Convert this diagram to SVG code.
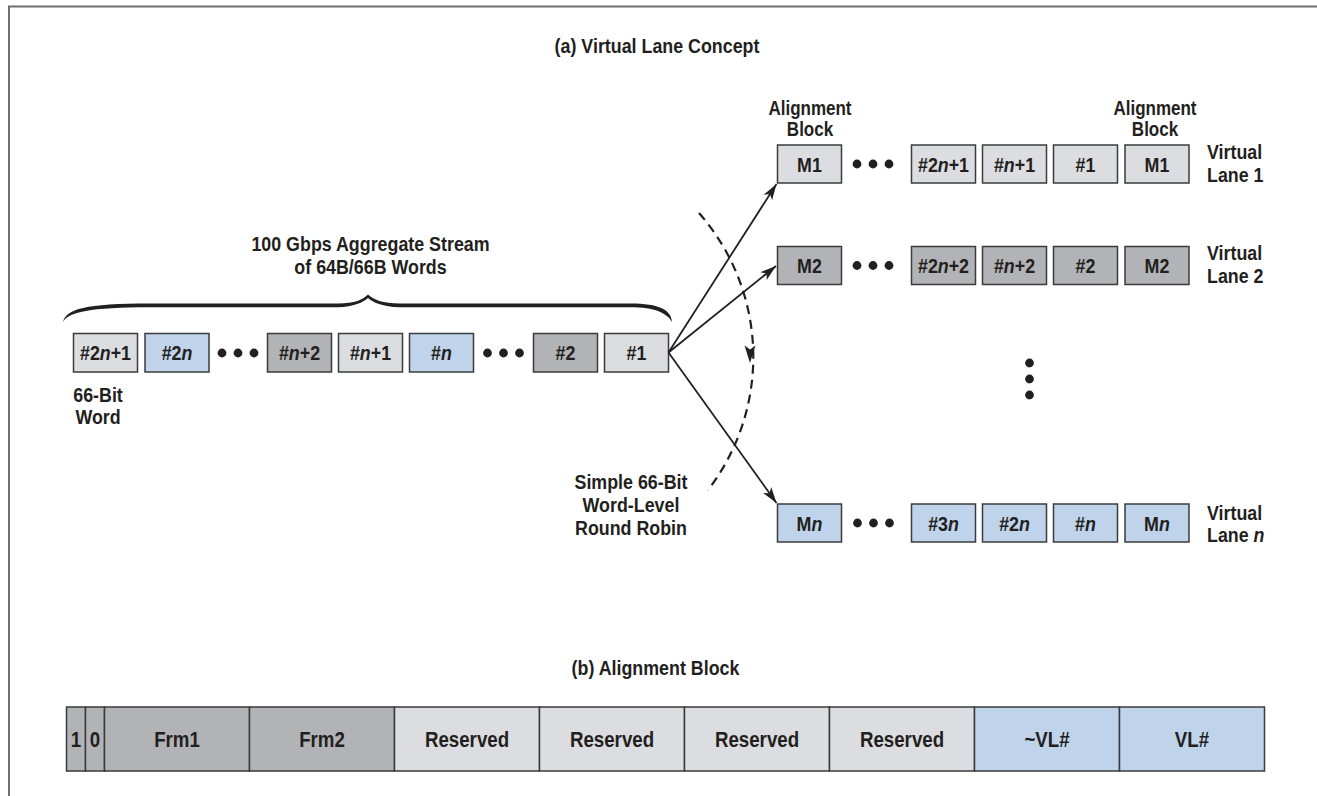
<svg xmlns="http://www.w3.org/2000/svg" width="1317" height="796" viewBox="0 0 1317 796">
  <defs>
    <style>
      text { font-family: "Liberation Sans", Arial, sans-serif; font-weight: bold; fill: #231f20; }
      .title { font-size: 21px; text-anchor: middle; }
      .lbl { font-size: 21px; text-anchor: middle; }
      .ab { font-size: 20px; text-anchor: middle; }
      .lane-lbl { font-size: 21px; text-anchor: start; }
      .bx { font-size: 21px; text-anchor: middle; }
      .cell-t { font-size: 22px; text-anchor: middle; }
      .i { font-style: italic; }
      .box { stroke: #3b3b3d; stroke-width: 1.5; }
      .lt { fill: #dcdde0; }
      .dk { fill: #b2b3b6; }
      .bl { fill: #bfd3ea; }
      .dot { fill: #231f20; }
      .arrow { fill: none; stroke: #231f20; stroke-width: 1.8; marker-end: url(#head); }
    </style>
    <marker id="head" viewBox="-17 -6 18 12" refX="0" refY="0" markerWidth="18" markerHeight="12" markerUnits="userSpaceOnUse" orient="auto">
      <path d="M0,0 L-16,-5 L-12,0 L-16,5 Z" fill="#231f20"/>
    </marker>
  </defs>

  <rect width="1317" height="796" fill="#ffffff"/>

  <!-- outer frame (open to the right and bottom) -->
  <path d="M9,800 L9,6.5 L1320,6.5" fill="none" stroke="#6d6e70" stroke-width="2"/>

  <!-- all labels use a condensed bold face: horizontal scale 0.85 -->
  <text class="title" transform="translate(657,53) scale(0.85,1)">(a) Virtual Lane Concept</text>

  <!-- aggregate stream -->
  <g id="stream-label">
    <text class="lbl" transform="translate(370.5,251) scale(0.85,1)">100 Gbps Aggregate Stream</text>
    <text class="lbl" transform="translate(370.5,274) scale(0.85,1)">of 64B/66B Words</text>
  </g>
  <g id="brace">
    <path d="M63,322 C66,309 85,303.5 150,303.5 L338,303.5 C355,303.5 363,299.5 368,294.5 C373,299.5 383,303.5 400,303.5 L630,303.5 C660,303.5 671,310 672,322 C667,313 655,307.2 630,307.2 L400,307.2 C383,307.2 372,302 368,298 C364,302 353,307.2 338,307.2 L150,307.2 C90,307.2 68,312 63,322 Z" fill="#231f20"/>
  </g>

  <g id="w-2n1">
    <rect class="box lt" x="73.5" y="333.5" width="64" height="38.5"/>
    <text class="bx" transform="translate(105.5,360) scale(0.85,1)">#2<tspan class="i">n</tspan>+1</text>
  </g>
  <g id="w-2n">
    <rect class="box bl" x="145" y="333.5" width="64" height="38.5"/>
    <text class="bx" transform="translate(177,360) scale(0.85,1)">#2<tspan class="i">n</tspan></text>
  </g>
  <g id="stream-dots-1">
    <circle class="dot" cx="222" cy="353" r="4.4"/>
    <circle class="dot" cx="238" cy="353" r="4.4"/>
    <circle class="dot" cx="254" cy="353" r="4.4"/>
  </g>
  <g id="w-n2">
    <rect class="box dk" x="267.5" y="333.5" width="64" height="38.5"/>
    <text class="bx" transform="translate(299.5,360) scale(0.85,1)">#<tspan class="i">n</tspan>+2</text>
  </g>
  <g id="w-n1">
    <rect class="box lt" x="338.5" y="333.5" width="64" height="38.5"/>
    <text class="bx" transform="translate(370.5,360) scale(0.85,1)">#<tspan class="i">n</tspan>+1</text>
  </g>
  <g id="w-n">
    <rect class="box bl" x="409.5" y="333.5" width="64" height="38.5"/>
    <text class="bx" transform="translate(441.5,360) scale(0.85,1)">#<tspan class="i">n</tspan></text>
  </g>
  <g id="stream-dots-2">
    <circle class="dot" cx="487.5" cy="353" r="4.4"/>
    <circle class="dot" cx="503.5" cy="353" r="4.4"/>
    <circle class="dot" cx="519.5" cy="353" r="4.4"/>
  </g>
  <g id="w-2">
    <rect class="box dk" x="533.5" y="333.5" width="64" height="38.5"/>
    <text class="bx" transform="translate(565.5,360) scale(0.85,1)">#2</text>
  </g>
  <g id="w-1">
    <rect class="box lt" x="604.5" y="333.5" width="64" height="38.5"/>
    <text class="bx" transform="translate(636.5,360) scale(0.85,1)">#1</text>
  </g>

  <g id="word-label">
    <text class="lbl" transform="translate(98,401.5) scale(0.85,1)">66-Bit</text>
    <text class="lbl" transform="translate(98,423.5) scale(0.85,1)">Word</text>
  </g>

  <g id="rr-label">
    <text class="lbl" transform="translate(631,488.5) scale(0.85,1)">Simple 66-Bit</text>
    <text class="lbl" transform="translate(631,511.5) scale(0.85,1)">Word-Level</text>
    <text class="lbl" transform="translate(631,535) scale(0.85,1)">Round Robin</text>
  </g>

  <!-- alignment block captions -->
  <g id="ab-label-left">
    <text class="ab" transform="translate(810,115) scale(0.85,1)">Alignment</text>
    <text class="ab" transform="translate(810,136) scale(0.85,1)">Block</text>
  </g>
  <g id="ab-label-right">
    <text class="ab" transform="translate(1155,115) scale(0.85,1)">Alignment</text>
    <text class="ab" transform="translate(1155,136) scale(0.85,1)">Block</text>
  </g>

  <!-- virtual lane 1 -->
  <g id="lane-1">
    <rect class="box lt" x="777.5" y="145" width="64" height="38"/>
    <text class="bx" transform="translate(809.5,171.5) scale(0.85,1)">M1</text>
    <circle class="dot" cx="857" cy="164" r="4.4"/>
    <circle class="dot" cx="873" cy="164" r="4.4"/>
    <circle class="dot" cx="889" cy="164" r="4.4"/>
    <rect class="box lt" x="911.5" y="145" width="64" height="38"/>
    <text class="bx" transform="translate(943.5,171.5) scale(0.85,1)">#2<tspan class="i">n</tspan>+1</text>
    <rect class="box lt" x="982.5" y="145" width="64" height="38"/>
    <text class="bx" transform="translate(1014.5,171.5) scale(0.85,1)">#<tspan class="i">n</tspan>+1</text>
    <rect class="box lt" x="1053.5" y="145" width="64" height="38"/>
    <text class="bx" transform="translate(1085.5,171.5) scale(0.85,1)">#1</text>
    <rect class="box lt" x="1125" y="145" width="64" height="38"/>
    <text class="bx" transform="translate(1157,171.5) scale(0.85,1)">M1</text>
    <text class="lane-lbl" transform="translate(1207,158.5) scale(0.85,1)">Virtual</text>
    <text class="lane-lbl" transform="translate(1207,181.5) scale(0.85,1)">Lane 1</text>
  </g>

  <!-- virtual lane 2 -->
  <g id="lane-2">
    <rect class="box dk" x="777.5" y="246.5" width="64" height="38"/>
    <text class="bx" transform="translate(809.5,273) scale(0.85,1)">M2</text>
    <circle class="dot" cx="857" cy="265.5" r="4.4"/>
    <circle class="dot" cx="873" cy="265.5" r="4.4"/>
    <circle class="dot" cx="889" cy="265.5" r="4.4"/>
    <rect class="box dk" x="911.5" y="246.5" width="64" height="38"/>
    <text class="bx" transform="translate(943.5,273) scale(0.85,1)">#2<tspan class="i">n</tspan>+2</text>
    <rect class="box dk" x="982.5" y="246.5" width="64" height="38"/>
    <text class="bx" transform="translate(1014.5,273) scale(0.85,1)">#<tspan class="i">n</tspan>+2</text>
    <rect class="box dk" x="1053.5" y="246.5" width="64" height="38"/>
    <text class="bx" transform="translate(1085.5,273) scale(0.85,1)">#2</text>
    <rect class="box dk" x="1125" y="246.5" width="64" height="38"/>
    <text class="bx" transform="translate(1157,273) scale(0.85,1)">M2</text>
    <text class="lane-lbl" transform="translate(1207,260) scale(0.85,1)">Virtual</text>
    <text class="lane-lbl" transform="translate(1207,283) scale(0.85,1)">Lane 2</text>
  </g>

  <g id="lane-dots">
    <circle class="dot" cx="1029.5" cy="363" r="4.4"/>
    <circle class="dot" cx="1029.5" cy="379" r="4.4"/>
    <circle class="dot" cx="1029.5" cy="395" r="4.4"/>
  </g>

  <!-- virtual lane n -->
  <g id="lane-n">
    <rect class="box bl" x="777.5" y="504" width="64" height="38"/>
    <text class="bx" transform="translate(809.5,530.5) scale(0.85,1)">M<tspan class="i">n</tspan></text>
    <circle class="dot" cx="857.5" cy="523" r="4.4"/>
    <circle class="dot" cx="873.5" cy="523" r="4.4"/>
    <circle class="dot" cx="889.5" cy="523" r="4.4"/>
    <rect class="box bl" x="911.5" y="504" width="64" height="38"/>
    <text class="bx" transform="translate(943.5,530.5) scale(0.85,1)">#3<tspan class="i">n</tspan></text>
    <rect class="box bl" x="982.5" y="504" width="64" height="38"/>
    <text class="bx" transform="translate(1014.5,530.5) scale(0.85,1)">#2<tspan class="i">n</tspan></text>
    <rect class="box bl" x="1053.5" y="504" width="64" height="38"/>
    <text class="bx" transform="translate(1085.5,530.5) scale(0.85,1)">#<tspan class="i">n</tspan></text>
    <rect class="box bl" x="1125" y="504" width="64" height="38"/>
    <text class="bx" transform="translate(1157,530.5) scale(0.85,1)">M<tspan class="i">n</tspan></text>
    <text class="lane-lbl" transform="translate(1207,519.5) scale(0.85,1)">Virtual</text>
    <text class="lane-lbl" transform="translate(1207,541.5) scale(0.85,1)">Lane <tspan class="i">n</tspan></text>
  </g>

  <!-- distribution connectors -->
  <g id="connectors">
    <path class="arrow" d="M668.5,352.5 L776.5,184"/>
    <path class="arrow" d="M668.5,352.5 L776,266"/>
    <path class="arrow" d="M668.5,352.5 L776.5,503"/>
    <path d="M699,213 A218,218 0 0 1 708,490" fill="none" stroke="#231f20" stroke-width="2.2" stroke-dasharray="9 6"/>
    <path d="M750,363 L744.5,345.5 L750,349.5 L755.5,345.5 Z" fill="#231f20"/>
  </g>

  <text class="title" transform="translate(655.5,675) scale(0.85,1)">(b) Alignment Block</text>

  <!-- alignment block layout -->
  <g id="alignment-block">
    <rect class="box dk" x="66.5" y="707" width="19" height="64"/>
    <text class="cell-t" transform="translate(76,747) scale(0.85,1)">1</text>
    <rect class="box dk" x="85.5" y="707" width="19" height="64"/>
    <text class="cell-t" transform="translate(95,747) scale(0.85,1)">0</text>
    <rect class="box dk" x="104.5" y="707" width="145" height="64"/>
    <text class="cell-t" transform="translate(177,747) scale(0.85,1)">Frm1</text>
    <rect class="box dk" x="249.5" y="707" width="145" height="64"/>
    <text class="cell-t" transform="translate(322,747) scale(0.85,1)">Frm2</text>
    <rect class="box lt" x="394.5" y="707" width="145" height="64"/>
    <text class="cell-t" transform="translate(467,747) scale(0.85,1)">Reserved</text>
    <rect class="box lt" x="539.5" y="707" width="145" height="64"/>
    <text class="cell-t" transform="translate(612,747) scale(0.85,1)">Reserved</text>
    <rect class="box lt" x="684.5" y="707" width="145" height="64"/>
    <text class="cell-t" transform="translate(757,747) scale(0.85,1)">Reserved</text>
    <rect class="box lt" x="829.5" y="707" width="145" height="64"/>
    <text class="cell-t" transform="translate(902,747) scale(0.85,1)">Reserved</text>
    <rect class="box bl" x="974.5" y="707" width="145" height="64"/>
    <text class="cell-t" transform="translate(1047,747) scale(0.85,1)">~VL#</text>
    <rect class="box bl" x="1119.5" y="707" width="145" height="64"/>
    <text class="cell-t" transform="translate(1192,747) scale(0.85,1)">VL#</text>
  </g>
</svg>
